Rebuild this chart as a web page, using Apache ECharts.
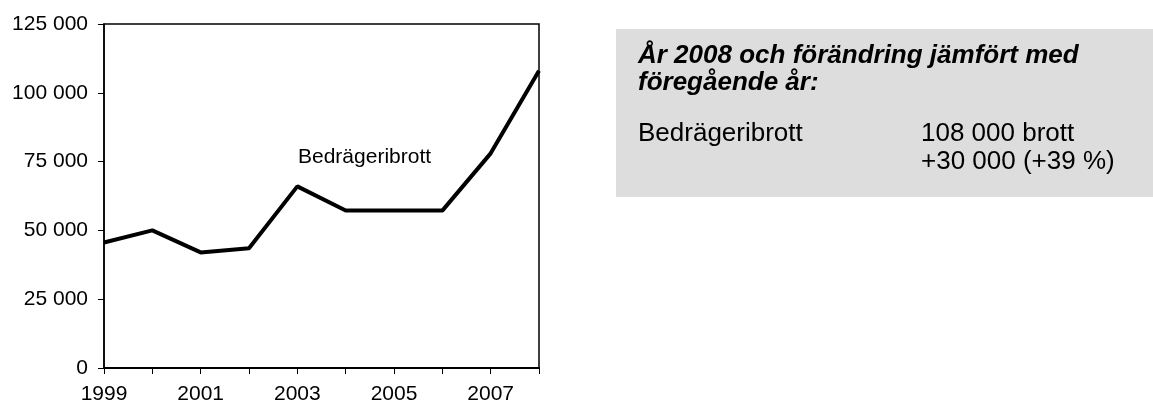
<!DOCTYPE html>
<html>
<head>
<meta charset="utf-8">
<script src="https://cdn.jsdelivr.net/npm/echarts@6/dist/echarts.min.js"></script>
<style>
  html, body { margin: 0; padding: 0; background: #fff; }
  #chart { width: 1153px; height: 410px; }
</style>
</head>
<body>
<div id="chart"></div>
<script>
const years = ['1999', '2000', '2001', '2002', '2003', '2004', '2005', '2006', '2007', '2008'];
const bedrageri = [45600, 50000, 42000, 43500, 66000, 57200, 57200, 57200, 78000, 108000];
const seriesName = 'Bedrägeribrott';
const boxTitle = ['År 2008 och förändring jämfört med', 'föregående år:'];
const boxRows = ['108 000 brott', '+30 000 (+39 %)'];

// tusental med mellanslag, t.ex. 125 000
const fmt = (v) => String(v).replace(/\B(?=(\d{3})+(?!\d))/g, ' ');
const font = '"Liberation Sans", Arial, sans-serif';

const chart = echarts.init(document.getElementById('chart'));
chart.setOption({
  animation: false,
  textStyle: { fontFamily: font },
  grid: {
    left: 104, right: 614, top: 24, bottom: 42,
    show: true, borderColor: '#000', borderWidth: 1.5, backgroundColor: '#fff'
  },
  xAxis: {
    type: 'category',
    data: years,
    boundaryGap: false,
    axisLine: { lineStyle: { color: '#000', width: 2 } },
    axisTick: { show: true, interval: 0, length: 6, lineStyle: { color: '#000' } },
    axisLabel: { interval: 1, color: '#000', fontSize: 21, margin: 16, fontFamily: font },
    splitLine: { show: false }
  },
  yAxis: {
    type: 'value',
    min: 0, max: 125000, interval: 25000,
    axisLine: { show: true, lineStyle: { color: '#000', width: 1.5 } },
    axisTick: { show: true, length: 6, lineStyle: { color: '#000' } },
    axisLabel: { color: '#000', fontSize: 21, margin: 16, fontFamily: font, formatter: fmt },
    splitLine: { show: false }
  },
  series: [{
    name: seriesName,
    type: 'line',
    data: bedrageri,
    symbol: 'none',
    lineStyle: { color: '#000', width: 4 }
  }],
  graphic: [
    {
      type: 'text', left: 298, top: 147,
      style: { text: seriesName, font: '21px ' + font, lineHeight: 21, fill: '#000' }
    },
    {
      type: 'rect', shape: { x: 616, y: 29, width: 537, height: 168 },
      style: { fill: '#dddddd' }
    },
    {
      type: 'text', left: 638, top: 42,
      style: { text: boxTitle.join('\n'), font: 'italic bold 26px ' + font, lineHeight: 27, fill: '#000' }
    },
    {
      type: 'text', left: 638, top: 120,
      style: { text: seriesName, font: '26px ' + font, lineHeight: 28, fill: '#000' }
    },
    {
      type: 'text', left: 921, top: 120,
      style: { text: boxRows.join('\n'), font: '26px ' + font, lineHeight: 28, fill: '#000' }
    }
  ]
});
</script>
</body>
</html>
